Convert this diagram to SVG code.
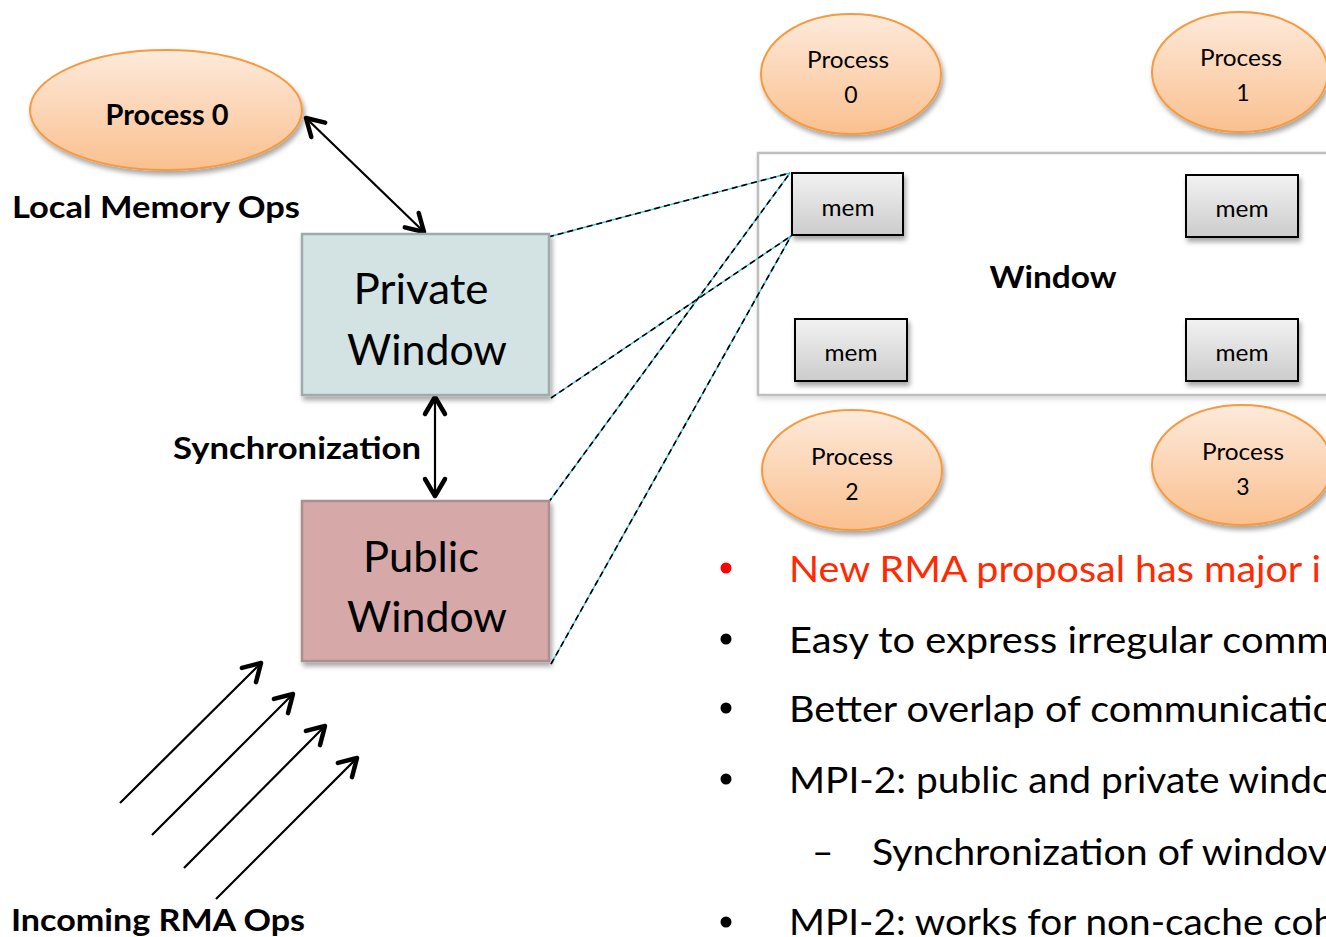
<svg xmlns="http://www.w3.org/2000/svg" width="1326" height="937" viewBox="0 0 1326 937">
<defs>
<linearGradient id="gOrange" x1="0" y1="0" x2="0" y2="1">
<stop offset="0" stop-color="#fdeadb"/>
<stop offset="1" stop-color="#fac08f"/>
</linearGradient>
<linearGradient id="gMem" x1="0" y1="0" x2="0" y2="1">
<stop offset="0" stop-color="#f2f2f2"/>
<stop offset="1" stop-color="#cccccc"/>
</linearGradient>
<filter id="shadow" x="-20%" y="-20%" width="140%" height="150%">
<feDropShadow dx="2" dy="4" stdDeviation="2.5" flood-color="#000" flood-opacity="0.35"/>
</filter>
<filter id="shadowLight" x="-5%" y="-5%" width="110%" height="115%">
<feDropShadow dx="1" dy="3" stdDeviation="2.5" flood-color="#000" flood-opacity="0.15"/>
</filter>
<style>
.ell{fill:url(#gOrange);stroke:#f79a3e;stroke-width:2;filter:url(#shadow);}
.mem{fill:url(#gMem);stroke:#000;stroke-width:2;filter:url(#shadow);}
.bold{font-family:Lato,"Liberation Sans",sans-serif;font-weight:bold;fill:#000;}
.reg{font-family:Lato,"Liberation Sans",sans-serif;fill:#000;}
.arrow{stroke:#000;stroke-width:2.2;fill:none;}
.hd{stroke:#000;stroke-width:4.5;fill:none;stroke-linecap:round;stroke-linejoin:round;}
.cy{stroke:#3cc0cc;stroke-width:1.4;fill:none;}
.dash{stroke:#000;stroke-width:1.6;fill:none;stroke-dasharray:6 4;}
.bul{font-family:Lato,"Liberation Sans",sans-serif;font-size:37px;fill:#000;}
</style>
</defs>
<rect width="1326" height="937" fill="#fff"/>

<g id="window-box">
<rect x="758" y="153" width="600" height="242" fill="#fff" stroke="#bfbfbf" stroke-width="2.5" filter="url(#shadowLight)"/>
<text class="bold" x="1053" y="288" font-size="30" text-anchor="middle" textLength="127" lengthAdjust="spacingAndGlyphs">Window</text>
</g>

<g id="connectors">
<line class="arrow" x1="306" y1="118" x2="424" y2="232"/>
<path class="hd" d="M404.8,227.4 L424,232 L418.7,213.0"/>
<path class="hd" d="M311.3,137.0 L306,118 L325.2,122.6"/>
<line class="arrow" x1="435" y1="397" x2="435" y2="496"/>
<path class="hd" d="M425,414 L435,397 L445,414"/>
<path class="hd" d="M425,479 L435,496 L445,479"/>
<line class="arrow" x1="120" y1="803" x2="261" y2="663"/>
<path class="hd" d="M256.0,682.1 L261,663 L241.9,667.9"/>
<line class="arrow" x1="152" y1="835" x2="293" y2="694"/>
<path class="hd" d="M288.0,713.1 L293,694 L273.9,698.9"/>
<line class="arrow" x1="184" y1="868" x2="325" y2="726"/>
<path class="hd" d="M320.0,745.1 L325,726 L305.9,730.9"/>
<line class="arrow" x1="216" y1="899" x2="357" y2="758"/>
<path class="hd" d="M352.0,777.1 L357,758 L337.9,762.9"/>
<g>
<line class="cy" x1="548" y1="237" x2="790" y2="173"/>
<line class="dash" x1="548" y1="237" x2="790" y2="173"/>
<line class="cy" x1="551" y1="398" x2="791" y2="236"/>
<line class="dash" x1="551" y1="398" x2="791" y2="236"/>
<line class="cy" x1="548" y1="503" x2="790" y2="173"/>
<line class="dash" x1="548" y1="503" x2="790" y2="173"/>
<line class="cy" x1="551" y1="664" x2="791" y2="236"/>
<line class="dash" x1="551" y1="664" x2="791" y2="236"/>
</g>
</g>

<g id="process0-left">
<ellipse class="ell" cx="166" cy="110" rx="136" ry="60"/>
<text class="bold" x="167" y="125" font-size="28" text-anchor="middle" textLength="123" lengthAdjust="spacingAndGlyphs">Process 0</text>
</g>
<g id="label-local">
<text class="bold" x="12" y="218" font-size="31" textLength="288" lengthAdjust="spacingAndGlyphs">Local Memory Ops</text>
</g>
<g id="private-window">
<rect x="302" y="234" width="247" height="161" fill="#d3e3e3" stroke="#9eabab" stroke-width="2.5" filter="url(#shadow)"/>
<text class="reg" x="421" y="304" font-size="43" text-anchor="middle" textLength="135" lengthAdjust="spacingAndGlyphs">Private</text>
<text class="reg" x="427" y="365" font-size="43" text-anchor="middle" textLength="160" lengthAdjust="spacingAndGlyphs">Window</text>
</g>
<g id="label-sync">
<text class="bold" x="173" y="459" font-size="31" textLength="248" lengthAdjust="spacingAndGlyphs">Synchronization</text>
</g>
<g id="public-window">
<rect x="302" y="501" width="247" height="160" fill="#d6a8a8" stroke="#a89090" stroke-width="2.5" filter="url(#shadow)"/>
<text class="reg" x="421" y="572" font-size="43" text-anchor="middle" textLength="116" lengthAdjust="spacingAndGlyphs">Public</text>
<text class="reg" x="427" y="632" font-size="43" text-anchor="middle" textLength="160" lengthAdjust="spacingAndGlyphs">Window</text>
</g>
<g id="label-incoming">
<text class="bold" x="11" y="931" font-size="31" textLength="294" lengthAdjust="spacingAndGlyphs">Incoming RMA Ops</text>
</g>

<g id="process0">
<ellipse class="ell" cx="851" cy="74" rx="90" ry="60"/>
<text class="reg" x="848" y="68" font-size="23" text-anchor="middle" textLength="82" lengthAdjust="spacingAndGlyphs">Process</text>
<text class="reg" x="851" y="103" font-size="23" text-anchor="middle">0</text>
</g>
<g id="process1">
<ellipse class="ell" cx="1240" cy="72" rx="88" ry="60"/>
<text class="reg" x="1241" y="66" font-size="23" text-anchor="middle" textLength="82" lengthAdjust="spacingAndGlyphs">Process</text>
<text class="reg" x="1243" y="101" font-size="23" text-anchor="middle">1</text>
</g>
<g id="process2">
<ellipse class="ell" cx="852" cy="470" rx="90" ry="60"/>
<text class="reg" x="852" y="465" font-size="23" text-anchor="middle" textLength="82" lengthAdjust="spacingAndGlyphs">Process</text>
<text class="reg" x="852" y="500" font-size="23" text-anchor="middle">2</text>
</g>
<g id="process3">
<ellipse class="ell" cx="1242" cy="465" rx="90" ry="60"/>
<text class="reg" x="1243" y="460" font-size="23" text-anchor="middle" textLength="82" lengthAdjust="spacingAndGlyphs">Process</text>
<text class="reg" x="1243" y="495" font-size="23" text-anchor="middle">3</text>
</g>

<g id="mem0">
<rect class="mem" x="792" y="173" width="111" height="62"/>
<text class="reg" x="848" y="216" font-size="24" text-anchor="middle" textLength="53" lengthAdjust="spacingAndGlyphs">mem</text>
</g>
<g id="mem1">
<rect class="mem" x="1186" y="175" width="112" height="62"/>
<text class="reg" x="1242" y="217" font-size="24" text-anchor="middle" textLength="53" lengthAdjust="spacingAndGlyphs">mem</text>
</g>
<g id="mem2">
<rect class="mem" x="795" y="319" width="112" height="62"/>
<text class="reg" x="851" y="361" font-size="24" text-anchor="middle" textLength="53" lengthAdjust="spacingAndGlyphs">mem</text>
</g>
<g id="mem3">
<rect class="mem" x="1186" y="319" width="112" height="62"/>
<text class="reg" x="1242" y="361" font-size="24" text-anchor="middle" textLength="53" lengthAdjust="spacingAndGlyphs">mem</text>
</g>

<g id="bullets">
<circle cx="726" cy="568" r="5.5" fill="#ff0000"/>
<text class="bul" x="789" y="582" style="fill:#ff2a00" textLength="532" lengthAdjust="spacingAndGlyphs">New RMA proposal has major i</text>
<circle cx="726" cy="639" r="5.5" fill="#000"/>
<text class="bul" x="789" y="653" textLength="540" lengthAdjust="spacingAndGlyphs">Easy to express irregular comm</text>
<circle cx="726" cy="708" r="5.5" fill="#000"/>
<text class="bul" x="789" y="722" textLength="546" lengthAdjust="spacingAndGlyphs">Better overlap of communicatio</text>
<circle cx="726" cy="779" r="5.5" fill="#000"/>
<text class="bul" x="789" y="793" textLength="545" lengthAdjust="spacingAndGlyphs">MPI-2: public and private windo</text>
<text class="bul" x="812" y="865">–</text>
<text class="bul" x="872" y="865" textLength="456" lengthAdjust="spacingAndGlyphs">Synchronization of windov</text>
<circle cx="726" cy="922" r="5.5" fill="#000"/>
<text class="bul" x="789" y="935" textLength="546" lengthAdjust="spacingAndGlyphs">MPI-2: works for non-cache coh</text>
</g>
</svg>
